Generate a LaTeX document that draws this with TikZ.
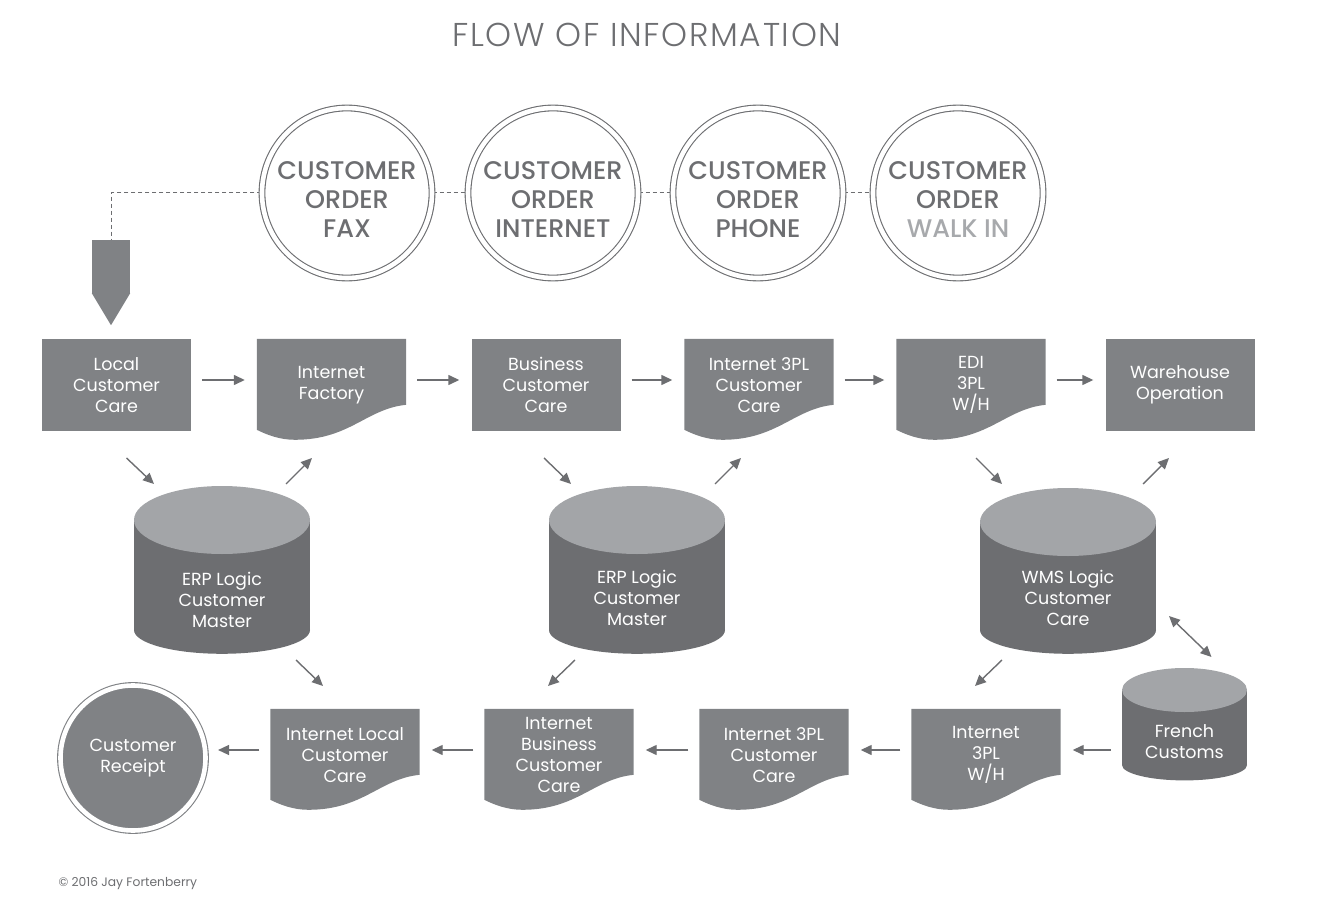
\documentclass[tikz,border=0pt]{standalone}
\usepackage{fontspec}
\setmainfont{Poppins}
\newfontfamily\lightfont[LetterSpace=5]{Poppins Light}
\newfontfamily\semifont{Poppins Medium}
\usetikzlibrary{arrows.meta,positioning,calc,backgrounds}
\definecolor{boxgray}{RGB}{128,130,133}
\definecolor{inkgray}{RGB}{109,110,113}
\definecolor{topgray}{RGB}{163,165,168}
\definecolor{palegray}{RGB}{167,169,172}

% wavy document shape behind a doc node
\newcommand{\docfill}[1]{%
  \fill[boxgray] (#1.north west) -- (#1.north east) -- ++(0,66)
    .. controls +(-40,4) and +(55,0) .. ($(#1.north west)+(38,101)$)
    .. controls +(-15,0) and +(10,5) .. ($(#1.north west)+(0,91)$) -- cycle;}
% database cylinder behind a text node: name, rx, ry, top dy, bottom dy
\newcommand{\cylfill}[5]{%
  \fill[inkgray] ($(#1)+(-#2,#4)$) rectangle ($(#1)+(#2,#5)$);
  \fill[inkgray] ($(#1)+(0,#5)$) ellipse[x radius=#2, y radius=0.7*#3];
  \fill[topgray] ($(#1)+(0,#4)$) ellipse[x radius=#2, y radius=#3];}

\begin{document}
\begin{tikzpicture}[x=1pt, y=-1pt,
    >={Triangle[length=11pt,width=10pt]},
    boxtext/.style={font=\fontsize{17.5}{21}\selectfont, text=white, align=center, inner sep=0pt},
    proc/.style={boxtext, rectangle, fill=boxgray, minimum width=149pt, minimum height=92pt},
    doc/.style={boxtext, rectangle, minimum width=149pt, minimum height=92pt},
    db/.style={boxtext, minimum width=#1},
    order/.style={circle, draw=inkgray, line width=1.1pt, double=white, double distance=4.6pt, fill=white, minimum size=170pt, inner sep=0pt},
    ordertext/.style={font=\semifont\fontsize{25.5}{29}\selectfont, text=inkgray, align=center, yshift=-7pt},
    arrow/.style={->, line width=1.4pt, inkgray, shorten <=11pt, shorten >=12pt},
    diag/.style={->, line width=1.4pt, inkgray},
    dashline/.style={inkgray, line width=1pt, dash pattern=on 4pt off 3pt}
]
    \useasboundingbox (0,0) rectangle (1323,920);

    \node[font=\lightfont\fontsize{33}{33}\selectfont, text=inkgray] (title) at (647,35) {FLOW OF INFORMATION};

    % order channels
    \node[order, label={[ordertext]center:CUSTOMER\\ORDER\\FAX}] (fax) at (347,193) {};
    \node[order, label={[ordertext]center:CUSTOMER\\ORDER\\INTERNET}] (inet) at (553,193) {};
    \node[order, label={[ordertext]center:CUSTOMER\\ORDER\\PHONE}] (phone) at (758,193) {};
    \node[order, label={[ordertext]center:CUSTOMER\\ORDER\\\textcolor{palegray}{WALK IN}}] (walkin) at (958,193) {};

    \node[fill=boxgray, minimum width=38pt, minimum height=53pt, inner sep=0pt] (inbox) at (111,266.5) {};
    \fill[boxgray] (inbox.south west) -- (inbox.south east) -- ($(inbox.south)+(0,32)$) -- cycle;

    % top row
    \node[proc] (lcc) at (116.5,385) {Local\\Customer\\Care};
    \node[doc] (ifac) at (331.5,385) {Internet\\Factory};
    \node[proc] (bcc) at (546,385) {Business\\Customer\\Care};
    \node[doc] (i3cc) at (759,385) {Internet 3PL\\Customer\\Care};
    \node[doc] (edi) at (971,385) {EDI\\3PL\\W/H};
    \node[proc] (who) at (1180,385) {Warehouse\\Operation};

    % databases
    \node[db=176pt] (erpa) at (222,600) {ERP Logic\\Customer\\Master};
    \node[db=176pt] (erpb) at (637,598) {ERP Logic\\Customer\\Master};
    \node[db=176pt] (wms) at (1068,598) {WMS Logic\\Customer\\Care};
    \node[db=125pt] (fcus) at (1184.5,742) {French\\Customs};

    % bottom row
    \node[circle, fill=boxgray, draw=boxgray, line width=1.1pt, double=white, double distance=4.6pt, minimum size=145pt, boxtext] (receipt) at (133,758) {Customer\\Receipt};
    \node[doc] (ilcc) at (345,755) {Internet Local\\Customer\\Care};
    \node[doc] (ibcc) at (559,755) {Internet\\Business\\Customer\\Care};
    \node[doc] (i3cc2) at (774,755) {Internet 3PL\\Customer\\Care};
    \node[doc] (i3wh) at (986,755) {Internet\\3PL\\W/H};

    \node[anchor=west, font=\fontsize{12.3}{12.3}\selectfont, text=inkgray] (credit) at (55,884) {© 2016 Jay Fortenberry};

    \begin{scope}[on background layer]
        \docfill{ifac} \docfill{i3cc} \docfill{edi}
        \docfill{ilcc} \docfill{ibcc} \docfill{i3cc2} \docfill{i3wh}
        \cylfill{erpa}{88}{34}{-80}{30}
        \cylfill{erpb}{88}{34}{-78}{32}
        \cylfill{wms}{88}{34}{-76}{32}
        \cylfill{fcus}{62.5}{22}{-52}{23}
        \draw[dashline] (fax.west) -| (inbox.north);
        \draw[dashline] (fax.east) -- (inet.west);
        \draw[dashline] (inet.east) -- (phone.west);
        \draw[dashline] (phone.east) -- (walkin.west);
    \end{scope}

    % top row flow
    \draw[arrow] ([yshift=5pt]lcc.east) -- ([yshift=5pt]ifac.west);
    \draw[arrow] ([yshift=5pt]ifac.east) -- ([yshift=5pt]bcc.west);
    \draw[arrow] ([yshift=5pt]bcc.east) -- ([yshift=5pt]i3cc.west);
    \draw[arrow] ([yshift=5pt]i3cc.east) -- ([yshift=5pt]edi.west);
    \draw[arrow] ([yshift=5pt]edi.east) -- ([yshift=5pt]who.west);

    % to and from the databases
    \draw[diag] ($(lcc)+(10,73)$) -- ($(erpa)+(-68,-116)$);
    \draw[diag] ($(erpa)+(64,-116)$) -- ($(ifac)+(-19.5,73)$);
    \draw[diag] ($(erpa)+(74,60)$) -- ($(ilcc)+(-22,-69)$);
    \draw[diag] ($(bcc)+(-2,73)$) -- ($(erpb)+(-66,-114)$);
    \draw[diag] ($(erpb)+(78,-114)$) -- ($(i3cc)+(-18,73)$);
    \draw[diag] ($(erpb)+(-62,62)$) -- ($(ibcc)+(-11,-69)$);
    \draw[diag] ($(edi)+(5,73)$) -- ($(wms)+(-66,-114)$);
    \draw[diag] ($(wms)+(75,-114)$) -- ($(who)+(-11,73)$);
    \draw[diag] ($(wms)+(-66,62)$) -- ($(i3wh)+(-11,-69)$);
    \draw[diag, <->] ($(wms)+(101,18)$) -- ($(fcus)+(27,-85)$);

    % bottom row flow
    \draw[arrow] ([yshift=-8pt]fcus.west) -- ([yshift=5pt]i3wh.east);
    \draw[arrow] ([yshift=5pt]i3wh.west) -- ([yshift=5pt]i3cc2.east);
    \draw[arrow] ([yshift=5pt]i3cc2.west) -- ([yshift=5pt]ibcc.east);
    \draw[arrow] ([yshift=5pt]ibcc.west) -- ([yshift=5pt]ilcc.east);
    \draw[arrow] ([yshift=5pt]ilcc.west) -- ([yshift=8pt]receipt.east);
\end{tikzpicture}
\end{document}
